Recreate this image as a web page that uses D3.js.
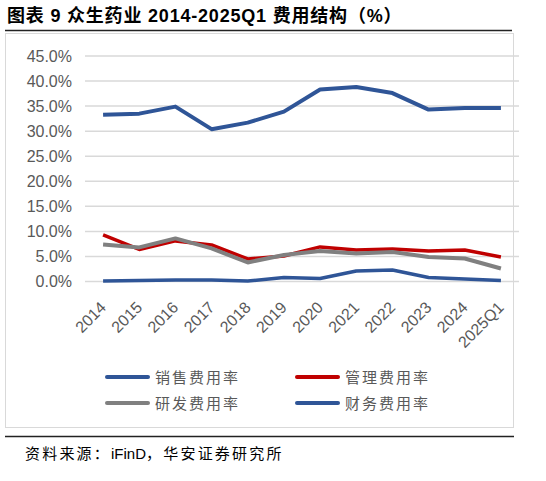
<!DOCTYPE html>
<html>
<head>
<meta charset="utf-8">
<script src="https://cdn.jsdelivr.net/npm/d3@7"></script>
<style>
  body { margin: 0; background: #fff; }
  svg { display: block; }
</style>
</head>
<body>
<svg id="chart"></svg>
<script>
// categories and series values (%)
const years = ["2014","2015","2016","2017","2018","2019","2020","2021","2022","2023","2024","2025Q1"];
const salesRate   = [33.3, 33.5, 34.9, 30.4, 31.7, 33.9, 38.3, 38.8, 37.6, 34.3, 34.6, 34.6];
const adminRate   = [9.3, 6.4, 8.1, 7.3, 4.5, 5.1, 6.9, 6.3, 6.5, 6.1, 6.3, 4.9];
const rdRate      = [7.4, 6.8, 8.6, 6.6, 3.8, 5.3, 6.1, 5.6, 5.9, 4.9, 4.6, 2.6];
const financeRate = [0.1, 0.2, 0.3, 0.3, 0.1, 0.8, 0.6, 2.1, 2.3, 0.8, 0.5, 0.2];
const yTicks = [0, 5, 10, 15, 20, 25, 30, 35, 40, 45];

const seriesNames = ["销售费用率", "管理费用率", "研发费用率", "财务费用率"];

const width = 546, height = 481;
const svg = d3.select("#chart").attr("width", width).attr("height", height);

const series = [
  {name: seriesNames[0], values: salesRate,   color: "#2F5597", w: 4},
  {name: seriesNames[1], values: adminRate,   color: "#C00000", w: 3.5},
  {name: seriesNames[2], values: rdRate,      color: "#808080", w: 4},
  {name: seriesNames[3], values: financeRate, color: "#2F5597", w: 3.5}
];

// title + rules
svg.append("text")
  .attr("x", 7).attr("y", 22)
  .style("font-family", "'Liberation Sans', 'Noto Sans CJK SC', sans-serif")
  .style("font-size", "18px").style("font-weight", "bold").style("letter-spacing", "0.8px")
  .attr("fill", "#000")
  .text("图表 9 众生药业 2014-2025Q1 费用结构（%）");

svg.append("line").attr("x1", 5).attr("x2", 512).attr("y1", 30.5).attr("y2", 30.5)
  .attr("stroke", "#222").attr("stroke-width", 1.5);

svg.append("rect").attr("x", 5.5).attr("y", 33.5).attr("width", 508).attr("height", 394)
  .attr("fill", "none").attr("stroke", "#d9d9d9").attr("stroke-width", 1);

svg.append("line").attr("x1", 5).attr("x2", 514).attr("y1", 436.5).attr("y2", 436.5)
  .attr("stroke", "#222").attr("stroke-width", 1.5);

// source note: CJK parts spaced, latin part tight
const src = svg.append("text")
  .attr("x", 25).attr("y", 459)
  .style("font-family", "'Liberation Sans', 'Noto Sans CJK SC', sans-serif")
  .style("font-size", "15px").attr("fill", "#000");
src.append("tspan").style("letter-spacing", "2.2px").text("资料来源：");
src.append("tspan").text("iFinD");
src.append("tspan").style("letter-spacing", "2.2px").text("，华安证券研究所");

// scales
const x = d3.scaleBand().domain(years).range([85, 519]);
const y = d3.scaleLinear().domain([0, 45]).range([281.5, 56]);
const cx = d => x(d) + x.bandwidth() / 2;

// gridlines
svg.append("g").selectAll("line").data(yTicks).join("line")
  .attr("x1", 85).attr("x2", 519)
  .attr("y1", d => y(d)).attr("y2", d => y(d))
  .attr("stroke", "#d9d9d9").attr("stroke-width", 1.5);

// y axis labels
const yAxis = svg.append("g").attr("transform", "translate(85,0)")
  .call(d3.axisLeft(y).tickValues(yTicks).tickSize(0).tickPadding(13)
    .tickFormat(d => d.toFixed(1) + "%"));
yAxis.select(".domain").remove();
yAxis.selectAll("text")
  .style("font-family", "'Liberation Sans', Arial, sans-serif")
  .style("font-size", "16px").attr("fill", "#595959");

// x axis labels
const xAxis = svg.append("g").attr("transform", "translate(0,281.5)")
  .call(d3.axisBottom(x).tickSize(0).tickPadding(0));
xAxis.select(".domain").remove();
xAxis.selectAll("text")
  .style("font-family", "'Liberation Sans', Arial, sans-serif")
  .style("font-size", "16px").attr("fill", "#595959")
  .attr("text-anchor", "end")
  .attr("dy", 0).attr("y", 0).attr("x", 0)
  .attr("transform", "translate(4,27) rotate(-45)");

// lines
const line = d3.line().x((d, i) => cx(years[i])).y(d => y(d));
svg.append("g").selectAll("path").data(series).join("path")
  .attr("d", s => line(s.values))
  .attr("fill", "none")
  .attr("stroke", s => s.color)
  .attr("stroke-width", s => s.w)
  .attr("stroke-linejoin", "round");

// legend
const legendPos = [[107, 377], [297, 377], [107, 403], [297, 403]];
const lg = svg.append("g").selectAll("g").data(series).join("g")
  .attr("transform", (s, i) => `translate(${legendPos[i][0]},${legendPos[i][1]})`);
lg.append("line").attr("x1", 0).attr("x2", 41).attr("y1", 0).attr("y2", 0)
  .attr("stroke", s => s.color).attr("stroke-width", 4).attr("stroke-linecap", "round");
lg.append("text").attr("x", 48).attr("y", 6)
  .style("font-family", "'Noto Sans CJK SC', sans-serif")
  .style("font-size", "15px").style("letter-spacing", "2px").attr("fill", "#595959")
  .text(s => s.name);
</script>
</body>
</html>
